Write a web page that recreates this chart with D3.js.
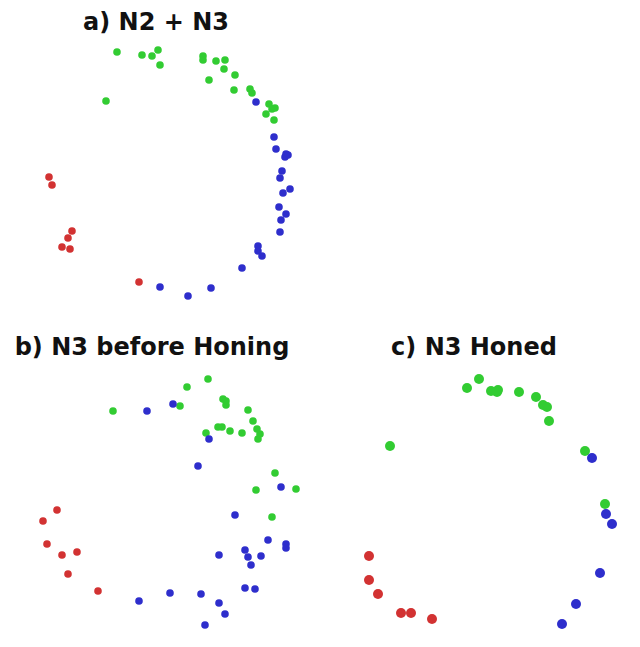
<!DOCTYPE html>
<html>
<head>
<meta charset="utf-8">
<script src="https://cdn.jsdelivr.net/npm/d3@7/dist/d3.min.js"></script>
<style>
  html, body { margin: 0; padding: 0; background: #ffffff; }
  svg { display: block; }
</style>
</head>
<body>
<script>
// Cluster labels and their colours
const clusters = ["red", "green", "blue"];
const clusterColors = ["#d23232", "#33cc33", "#2e2ecc"];

// Panel titles
const titles = ["a) N2 + N3", "b) N3 before Honing", "c) N3 Honed"];

// a) N2 + N3 — embedding coordinates [x, y, cluster]
const pointsA = [
  [8.7, 26.8, 1], [11.2, 26.5, 1], [12.2, 26.4, 1], [12.8, 27.0, 1], [13.0, 25.5, 1],
  [17.3, 26.4, 1], [17.3, 26.0, 1], [18.6, 25.9, 1], [19.5, 26.0, 1], [19.4, 25.1, 1],
  [20.5, 24.5, 1], [17.9, 24.0, 1], [20.4, 23.0, 1], [22.0, 23.1, 1], [22.2, 22.7, 1],
  [23.9, 21.6, 1], [24.5, 21.2, 1], [24.2, 21.1, 1], [23.6, 20.6, 1], [24.4, 20.0, 1],
  [7.6, 21.9, 1],
  [22.6, 21.8, 2], [24.4, 18.3, 2], [24.6, 17.1, 2], [25.6, 16.6, 2], [25.8, 16.5, 2],
  [25.5, 16.3, 2], [25.2, 14.9, 2], [25.0, 14.2, 2], [26.0, 13.1, 2], [25.3, 12.7, 2],
  [24.9, 11.3, 2], [25.6, 10.6, 2], [25.1, 10.0, 2], [25.0, 8.8, 2], [22.8, 7.4, 2],
  [22.8, 6.9, 2], [23.2, 6.4, 2], [21.2, 5.2, 2], [18.1, 3.2, 2], [15.8, 2.4, 2],
  [13.0, 3.3, 2],
  [1.9, 14.3, 0], [2.2, 13.5, 0], [4.2, 8.9, 0], [3.8, 8.2, 0], [3.2, 7.3, 0],
  [4.0, 7.1, 0], [10.9, 3.8, 0]
];

// b) N3 before Honing
const pointsB = [
  [19.8, 26.1, 1], [17.7, 25.3, 1], [17.0, 23.4, 1], [10.3, 22.9, 1], [21.3, 24.1, 1],
  [21.6, 23.9, 1], [21.6, 23.5, 1], [23.8, 23.0, 1], [24.3, 21.9, 1], [24.7, 21.1, 1],
  [25.0, 20.6, 1], [24.8, 20.1, 1], [23.2, 20.7, 1], [22.0, 20.9, 1], [21.2, 21.3, 1],
  [20.8, 21.3, 1], [19.6, 20.7, 1], [26.5, 16.7, 1], [24.6, 15.0, 1], [28.6, 15.1, 1],
  [26.2, 12.3, 1],
  [13.7, 22.9, 2], [16.3, 23.6, 2], [19.9, 20.1, 2], [18.8, 17.4, 2], [27.1, 15.3, 2],
  [22.5, 12.5, 2], [25.8, 10.0, 2], [27.6, 9.6, 2], [27.6, 9.2, 2], [23.5, 9.0, 2],
  [23.8, 8.3, 2], [25.1, 8.4, 2], [20.9, 8.5, 2], [24.1, 7.5, 2], [23.5, 5.2, 2],
  [24.5, 5.1, 2], [19.1, 4.6, 2], [16.0, 4.7, 2], [12.9, 3.9, 2], [20.9, 3.7, 2],
  [21.5, 2.6, 2], [19.5, 1.5, 2],
  [4.7, 13.0, 0], [3.3, 11.9, 0], [3.7, 9.6, 0], [6.7, 8.8, 0], [5.2, 8.5, 0],
  [5.8, 6.6, 0], [8.8, 4.9, 0]
];

// c) N3 Honed
const pointsC = [
  [13.9, 26.1, 1], [12.7, 25.2, 1], [15.1, 24.9, 1], [15.8, 25.0, 1], [15.7, 24.8, 1],
  [17.9, 24.8, 1], [19.6, 24.3, 1], [20.3, 23.5, 1], [20.7, 23.3, 1], [20.9, 21.9, 1],
  [5.0, 19.4, 1], [24.5, 18.9, 1], [26.5, 13.6, 1],
  [25.2, 18.2, 2], [26.6, 12.6, 2], [27.2, 11.6, 2], [26.0, 6.7, 2], [23.6, 3.6, 2],
  [22.2, 1.6, 2],
  [2.9, 8.4, 0], [2.9, 6.0, 0], [3.8, 4.6, 0], [6.1, 2.7, 0], [7.1, 2.7, 0],
  [9.2, 2.1, 0]
];

const width = 640, height = 647;

const svg = d3.select("body").append("svg")
  .attr("width", width)
  .attr("height", height);

svg.append("rect").attr("width", width).attr("height", height).attr("fill", "#ffffff");

// slight softening of the markers
const defs = svg.append("defs");
defs.append("filter").attr("id", "soft")
  .append("feGaussianBlur").attr("stdDeviation", 0.45);

const color = d3.scaleOrdinal().domain(d3.range(clusters.length)).range(clusterColors);

const panels = [
  { data: pointsA, title: titles[0], titleX: 156, titleY: 30,
    x: d3.scaleLinear().domain([0, 28]).range([30, 310]),
    y: d3.scaleLinear().domain([0, 28]).range([320, 40]), r: 3.8 },
  { data: pointsB, title: titles[1], titleX: 152, titleY: 355,
    x: d3.scaleLinear().domain([0, 30]).range([10, 310]),
    y: d3.scaleLinear().domain([0, 28]).range([640, 360]), r: 3.8 },
  { data: pointsC, title: titles[2], titleX: 474, titleY: 355,
    x: d3.scaleLinear().domain([0, 30]).range([340, 640]),
    y: d3.scaleLinear().domain([0, 28]).range([640, 360]), r: 5 }
];

panels.forEach(p => {
  const g = svg.append("g");
  g.append("text")
    .attr("x", p.titleX)
    .attr("y", p.titleY)
    .attr("text-anchor", "middle")
    .attr("font-family", "DejaVu Sans")
    .attr("font-weight", "bold")
    .attr("font-size", 24)
    .attr("fill", "#111111")
    .text(p.title);

  g.append("g").attr("filter", "url(#soft)")
    .selectAll("circle")
    .data(p.data)
    .join("circle")
    .attr("cx", d => p.x(d[0]))
    .attr("cy", d => p.y(d[1]))
    .attr("r", p.r)
    .attr("fill", d => color(d[2]));
});
</script>
</body>
</html>
